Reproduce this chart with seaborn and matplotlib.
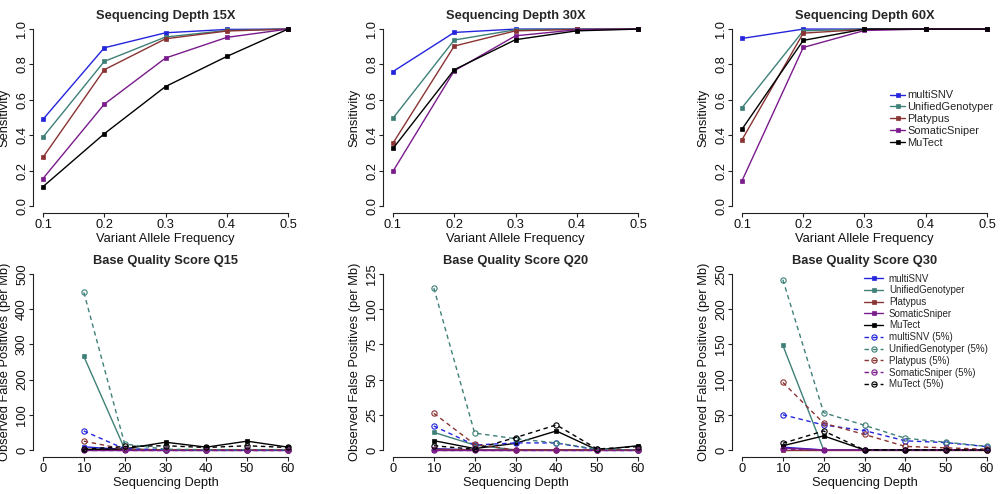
import matplotlib
matplotlib.use("Agg")
import matplotlib.pyplot as plt
import seaborn as sns

# ---------------- data ----------------
tools = ["multiSNV", "UnifiedGenotyper", "Platypus", "SomaticSniper", "MuTect"]
tool_colors = ["#2424dc", "#3e8078", "#8a3333", "#7a1b8c", "#000000"]

vaf = [0.1, 0.2, 0.3, 0.4, 0.5]
vaf_ticks = ["0.1", "0.2", "0.3", "0.4", "0.5"]
sens_ticks = [0.0, 0.2, 0.4, 0.6, 0.8, 1.0]
sens_tick_labels = ["0.0", "0.2", "0.4", "0.6", "0.8", "1.0"]

sens_15X = {
    "multiSNV":         [0.490, 0.894, 0.979, 0.998, 1.000],
    "UnifiedGenotyper": [0.389, 0.817, 0.955, 0.992, 1.000],
    "Platypus":         [0.275, 0.770, 0.945, 0.989, 1.000],
    "SomaticSniper":    [0.155, 0.575, 0.836, 0.953, 1.000],
    "MuTect":           [0.109, 0.408, 0.675, 0.845, 1.000],
}
sens_30X = {
    "multiSNV":         [0.760, 0.981, 1.000, 1.000, 1.000],
    "UnifiedGenotyper": [0.496, 0.938, 0.996, 1.000, 1.000],
    "Platypus":         [0.355, 0.904, 0.990, 0.998, 1.000],
    "SomaticSniper":    [0.196, 0.764, 0.962, 0.996, 1.000],
    "MuTect":           [0.325, 0.770, 0.940, 0.990, 1.000],
}
sens_60X = {
    "multiSNV":         [0.947, 1.000, 1.000, 1.000, 1.000],
    "UnifiedGenotyper": [0.555, 0.990, 1.000, 1.000, 1.000],
    "Platypus":         [0.374, 0.977, 0.998, 1.000, 1.000],
    "SomaticSniper":    [0.142, 0.896, 0.992, 1.000, 1.000],
    "MuTect":           [0.434, 0.936, 1.000, 1.000, 1.000],
}

depths = [10, 20, 30, 40, 50, 60]
depth_ticks = [0, 10, 20, 30, 40, 50, 60]

fp_Q15 = {
    "multiSNV":         [9, 1, 0, 0, 0, 0],
    "UnifiedGenotyper": [266, 3, 0, 0, 0, 0],
    "Platypus":         [2, 1, 0, 0, 0, 0],
    "SomaticSniper":    [0, 0, 0, 0, 0, 0],
    "MuTect":           [1, 3, 22, 8, 25, 8],
}
fp5_Q15 = {
    "multiSNV":         [54, 3, 1, 0, 0, 0],
    "UnifiedGenotyper": [448, 17, 2, 1, 1, 1],
    "Platypus":         [25, 2, 0, 0, 0, 0],
    "SomaticSniper":    [0, 0, 0, 0, 0, 0],
    "MuTect":           [2, 10, 12, 7, 12, 7],
}
fp_Q20 = {
    "multiSNV":         [1, 0, 0, 0, 0, 0],
    "UnifiedGenotyper": [12.5, 3.5, 0, 0, 0, 0],
    "Platypus":         [0.5, 0, 0, 0, 0, 0],
    "SomaticSniper":    [0, 0, 0, 0, 0, 0],
    "MuTect":           [6.6, 1, 4.7, 13.5, 0, 3],
}
fp5_Q20 = {
    "multiSNV":         [17, 3.5, 5, 5, 0, 0],
    "UnifiedGenotyper": [115, 12, 8, 5, 0.5, 0],
    "Platypus":         [26, 4, 0, 0, 0, 0],
    "SomaticSniper":    [0, 0, 0, 0, 0, 0],
    "MuTect":           [3, 0.5, 8.8, 17.8, 0.7, 2.4],
}
fp_Q30 = {
    "multiSNV":         [4, 0, 0, 0, 0, 0],
    "UnifiedGenotyper": [148.7, 0, 0, 0, 0, 0],
    "Platypus":         [0, 0, 0, 0, 0, 0],
    "SomaticSniper":    [2.5, 0, 0, 0, 0, 0],
    "MuTect":           [6, 20, 0, 0, 0, 0],
}
fp5_Q30 = {
    "multiSNV":         [50, 35.5, 27.5, 13, 10.4, 4.7],
    "UnifiedGenotyper": [242, 53, 35, 16.6, 11, 5],
    "Platypus":         [96, 38, 22, 5, 3, 1],
    "SomaticSniper":    [1, 0, 0, 0, 0, 0],
    "MuTect":           [9.5, 27, 0, 0, 0, 0],
}

fp_ticks_Q15 = [0, 100, 200, 300, 400, 500]
fp_ticks_Q20 = [0, 25, 50, 75, 100, 125]
fp_ticks_Q30 = [0, 50, 100, 150, 200, 250]

top_titles = ["Sequencing Depth 15X", "Sequencing Depth 30X", "Sequencing Depth 60X"]
bottom_titles = ["Base Quality Score Q15", "Base Quality Score Q20", "Base Quality Score Q30"]

# ---------------- style ----------------
sns.set_style("ticks")
plt.rcParams["font.family"] = ["Liberation Sans", "DejaVu Sans"]
plt.rcParams["axes.linewidth"] = 0.8

W, H = 1003, 494
fig = plt.figure(figsize=(W / 100, H / 100), dpi=100)
fig.patch.set_facecolor("white")

AXW = 264.6
LEFTS = [33.2, 383.2, 732.2]
FS = 9.3
AXCOL = "#222222"


def add_ax(left_px, top_px, w_px, h_px):
    return fig.add_axes([left_px / W, 1 - (top_px + h_px) / H, w_px / W, h_px / H])


def style(ax, xt, xtl, yt, ytl, xlim, ylim, title, xlabel, ylabel):
    ax.set_facecolor("white")
    ax.set_xlim(xlim)
    ax.set_ylim(ylim)
    ax.set_xticks(xt, labels=xtl)
    ax.set_yticks(yt, labels=ytl, rotation=90, va="center")
    for s in ["top", "right"]:
        ax.spines[s].set_visible(False)
    for s in ["left", "bottom"]:
        ax.spines[s].set_color(AXCOL)
        ax.spines[s].set_linewidth(0.8)
    ax.spines["left"].set_bounds(yt[0], yt[-1])
    ax.spines["bottom"].set_bounds(xt[0], xt[-1])
    ax.tick_params(direction="out", length=2.9, width=0.8, color=AXCOL,
                   labelsize=FS, labelcolor="#111111")
    ax.tick_params(axis="x", pad=1.2)
    ax.tick_params(axis="y", pad=0.8)
    ax.set_title(title, fontsize=FS, fontweight="bold", pad=2.2)
    ax.set_xlabel(xlabel, fontsize=FS, color="#111111")
    ax.set_ylabel(ylabel, fontsize=FS, color="#111111")
    ax.xaxis.set_label_coords(0.5, -0.107)
    ax.yaxis.set_label_coords(-0.085, 0.5)
    ax.xaxis.label.set_va("top")
    ax.grid(False)


def draw_solid(ax, x, data):
    for tool, col in zip(tools, tool_colors):
        sns.lineplot(x=x, y=data[tool], ax=ax, color=col, linewidth=1.0,
                     marker="s", markersize=3.0, markeredgecolor=col,
                     markerfacecolor=col, markeredgewidth=0.5,
                     label=tool, legend=False, errorbar=None)


def draw_dashed(ax, x, data):
    for tool, col in zip(tools, tool_colors):
        sns.lineplot(x=x, y=data[tool], ax=ax, color=col, linewidth=1.0,
                     linestyle=(0, (3.2, 2.6)),
                     marker="o", markersize=3.8, markeredgecolor=col,
                     markerfacecolor="none", markeredgewidth=0.8,
                     label=tool + " (5%)", legend=False, errorbar=None)


# ---------------- top row ----------------
top_axes = []
for i, (data, title) in enumerate(zip([sens_15X, sens_30X, sens_60X], top_titles)):
    ax = add_ax(LEFTS[i], 22, AXW, 191)
    draw_solid(ax, vaf, data)
    style(ax, vaf, vaf_ticks, sens_ticks, sens_tick_labels,
          (0.084, 0.516), (-0.04, 1.04), title,
          "Variant Allele Frequency", "Sensitivity")
    top_axes.append(ax)

h, l = top_axes[2].get_legend_handles_labels()
top_axes[2].legend(h, l, loc="upper left",
                   bbox_to_anchor=(890 / W, 1 - 90.5 / H),
                   bbox_transform=fig.transFigure, frameon=False,
                   fontsize=7.9, handlelength=1.37, handletextpad=0.2,
                   labelspacing=0.16, borderpad=0, borderaxespad=0)

# ---------------- bottom row ----------------
bottom_axes = []
fp_sets = [(fp_Q15, fp5_Q15, fp_ticks_Q15), (fp_Q20, fp5_Q20, fp_ticks_Q20),
           (fp_Q30, fp5_Q30, fp_ticks_Q30)]
for i, ((solid, dashed, yt), title) in enumerate(zip(fp_sets, bottom_titles)):
    ax = add_ax(LEFTS[i], 267, AXW, 190)
    draw_solid(ax, depths, solid)
    draw_dashed(ax, depths, dashed)
    ymax = yt[-1]
    style(ax, depth_ticks, [str(t) for t in depth_ticks], yt, [str(t) for t in yt],
          (-2.4, 62.4), (-0.04 * ymax, 1.04 * ymax), title,
          "Sequencing Depth", "Observed False Positives (per Mb)")
    bottom_axes.append(ax)

h, l = bottom_axes[2].get_legend_handles_labels()
bottom_axes[2].legend(h, l, loc="upper left",
                      bbox_to_anchor=(864 / W, 1 - 273.5 / H),
                      bbox_transform=fig.transFigure, frameon=False,
                      fontsize=7.0, handlelength=1.96, handletextpad=0.6,
                      labelspacing=0.18, borderpad=0, borderaxespad=0)

fig.savefig("out.png", dpi=100, facecolor="white")
